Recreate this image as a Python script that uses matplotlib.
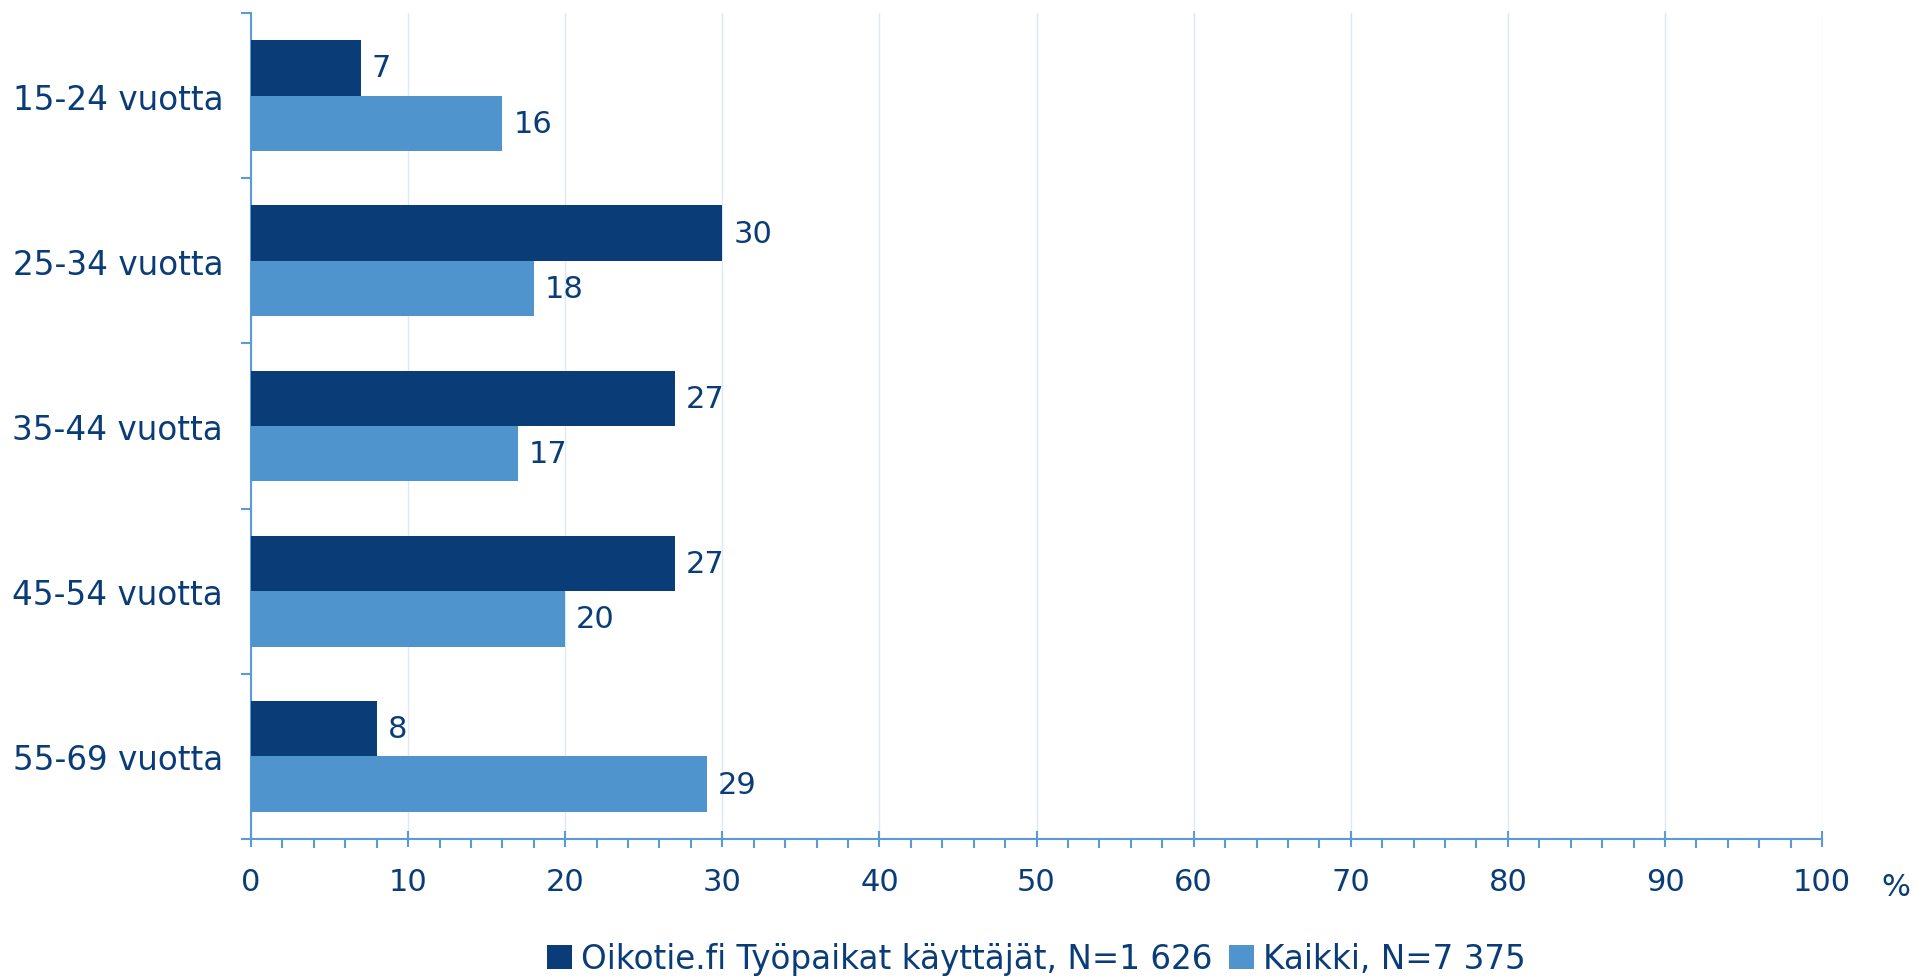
import matplotlib.pyplot as plt
import numpy as np
from matplotlib.ticker import MultipleLocator

# Data
categories = ["15-24 vuotta", "25-34 vuotta", "35-44 vuotta", "45-54 vuotta", "55-69 vuotta"]
oikotie = [7, 30, 27, 27, 8]
kaikki = [16, 18, 17, 20, 29]
series_names = ["Oikotie.fi Työpaikat käyttäjät, N=1 626", "Kaikki, N=7 375"]

DARK = "#0a3d78"
LIGHT = "#4f94cd"
AXIS = "#5b9bd5"
GRID = "#dde9f6"
TEXT = "#0a3d78"

plt.rcParams['font.family'] = ['DejaVu Sans']

fig = plt.figure(figsize=(19.16, 9.79), dpi=100)
ax = fig.add_axes([0.131, 0.142, 0.82, 0.8437])

y = np.arange(len(categories))
h = 0.335
b1 = ax.barh(y - h / 2, oikotie, height=h, color=DARK, label=series_names[0], zorder=3)
b2 = ax.barh(y + h / 2, kaikki, height=h, color=LIGHT, label=series_names[1], zorder=3)

for bars, vals in ((b1, oikotie), (b2, kaikki)):
    for bar, v in zip(bars, vals):
        ax.text(v + 0.7, bar.get_y() + bar.get_height() / 2, str(v),
                va='center', ha='left', fontsize=22, color=TEXT)

ax.set_xlim(0, 100)
ax.set_ylim(len(categories) - 0.5, -0.5)

# x ticks
ax.xaxis.set_major_locator(MultipleLocator(10))
ax.xaxis.set_minor_locator(MultipleLocator(2))
ax.tick_params(axis='x', which='major', direction='inout', length=12, width=1.5,
               color=AXIS, labelsize=22, labelcolor=TEXT, pad=14)
ax.tick_params(axis='x', which='minor', direction='out', length=6.5, width=1.5, color=AXIS)
ax.grid(axis='x', which='major', color=GRID, linewidth=1, zorder=0)

# y ticks: boundaries as marks, labels at centers
ax.set_yticks(np.arange(-0.5, len(categories) + 0.5, 1))
ax.set_yticklabels([])
ax.set_yticks(y, minor=True)
ax.set_yticklabels(categories, minor=True)
ax.tick_params(axis='y', which='major', direction='out', length=7.5, width=1.5, color=AXIS)
ax.tick_params(axis='y', which='minor', length=0, labelsize=23.5, labelcolor=TEXT, pad=20)

for s in ['top', 'right']:
    ax.spines[s].set_visible(False)
for s in ['left', 'bottom']:
    ax.spines[s].set_color(AXIS)
    ax.spines[s].set_linewidth(1.5)

fig.text(0.997, 0.093, "%", fontsize=22, color=TEXT, ha='right', va='center')

leg = ax.legend(loc='center', bbox_to_anchor=(0.5, -0.145), ncol=2, frameon=False,
                fontsize=23.5, handlelength=0.75, handleheight=0.75, handletextpad=0.3,
                columnspacing=0.5, labelcolor=TEXT)

fig.savefig("out.png", dpi=100)
